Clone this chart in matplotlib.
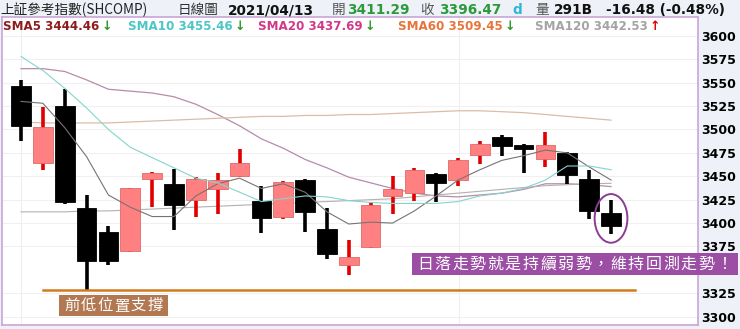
import matplotlib
matplotlib.use('Agg')
import matplotlib.pyplot as plt
from matplotlib.patches import Rectangle, Ellipse

# candle data
opens  = [3547, 3464, 3525, 3416, 3390, 3370, 3447, 3442, 3425, 3436, 3450, 3424, 3406, 3446,
          3394, 3355, 3374, 3429, 3432, 3452, 3446, 3473, 3492, 3483, 3468, 3475, 3447, 3411.29]
highs  = [3553, 3524, 3543, 3430, 3397, 3438, 3455, 3458, 3449, 3454, 3479, 3440, 3445, 3447,
          3416, 3382, 3423, 3450, 3459, 3453, 3470, 3488, 3494, 3484, 3497, 3476, 3457, 3425]
lows   = [3488, 3457, 3420, 3329, 3355, 3369, 3417, 3393, 3407, 3410, 3449, 3389, 3404, 3390,
          3362, 3345, 3373, 3410, 3424, 3422, 3440, 3463, 3472, 3453, 3460, 3442, 3404, 3388]
closes = [3504, 3503, 3422, 3360, 3359, 3437, 3453, 3419, 3447, 3446, 3464, 3405, 3444, 3412,
          3367, 3364, 3419, 3436, 3457, 3443, 3467, 3484, 3482, 3479, 3483, 3451, 3413, 3396.47]

sma5   = [3530, 3528, 3502, 3471, 3430, 3417, 3407, 3407, 3429, 3442, 3448, 3437, 3442, 3433,
          3412, 3399, 3401, 3400, 3413, 3429, 3446, 3457, 3467, 3472, 3478, 3475, 3460, 3446]
sma10  = [3578, 3563, 3544, 3523, 3500, 3481, 3470, 3459, 3448, 3443, 3433, 3423, 3426, 3429,
          3428, 3424, 3422, 3421, 3421, 3421, 3423, 3429, 3432, 3437, 3446, 3461, 3461, 3457]
sma20  = [3565, 3565, 3562, 3553, 3543, 3541, 3539, 3535, 3527, 3516, 3504, 3490, 3480, 3468,
          3459, 3449, 3443, 3437, 3432, 3429, 3428, 3430, 3432, 3436, 3442, 3442, 3441, 3439]
sma60  = [3508, 3507, 3507, 3507, 3507, 3508, 3509, 3510, 3511, 3512, 3513, 3514, 3514, 3515,
          3515, 3516, 3516, 3517, 3518, 3519, 3520, 3520, 3519, 3518, 3516, 3514, 3512, 3510]
sma120 = [3412, 3412, 3412, 3413, 3413, 3414, 3415, 3416, 3417, 3418, 3419, 3420, 3421, 3422,
          3423, 3424, 3425, 3426, 3428, 3430, 3432, 3434, 3436, 3438, 3440, 3441, 3442, 3442.5]

yticks = [3300, 3325, 3375, 3400, 3425, 3450, 3475, 3500, 3525, 3550, 3575, 3600]
support_level = 3328

W, H = 740, 329
cjk = ['Noto Sans CJK TC', 'DejaVu Sans']

fig = plt.figure(figsize=(W / 100, H / 100), dpi=100)
fig.patch.set_facecolor('#eef2f8')
ax = fig.add_axes([2 / W, 4 / H, 696 / W, 308 / H])
ax.set_facecolor('white')

def px(x, y):
    return x / W, 1 - y / H

def label_box(x0, y0, x1, y1, text, fc, step, size):
    # box drawn in pixel coords, characters spaced out one by one
    fig.patches.append(Rectangle(px(x0, y1), (x1 - x0) / W, (y1 - y0) / H,
                                 transform=fig.transFigure, fc=fc, ec='none', zorder=10))
    yc = (y0 + y1) / 2
    for k, ch in enumerate(text):
        fig.text(*px(x0 + 4 + step * (k + 0.5), yc), ch, family=cjk, fontsize=size,
                 color='white', ha='center', va='center', zorder=11)

n = len(closes)
xs = list(range(n))
for i in xs:
    o, h, l, c = opens[i], highs[i], lows[i], closes[i]
    up = c >= o
    wick = '#e00000' if up else 'black'
    body = '#ff8080' if up else 'black'
    ax.plot([i, i], [l, h], color=wick, lw=2.6, solid_capstyle='butt', zorder=3)
    ax.add_patch(Rectangle((i - 0.45, min(o, c)), 0.9, max(abs(c - o), 0.8),
                           facecolor=body, edgecolor='#e06868' if up else 'black',
                           lw=0.6, zorder=4))

ax.plot(xs, sma5, color='#7a7272', lw=0.8, zorder=5)
ax.plot(xs, sma10, color='#86d4cc', lw=0.8, zorder=5)
ax.plot(xs, sma20, color='#b58cab', lw=0.9, zorder=2)
ax.plot(xs, sma60, color='#dcbca6', lw=0.9, zorder=2)
ax.plot(xs, sma120, color='#b4b0b0', lw=0.8, zorder=2)

ax.set_xlim(-0.87, 30.98)
ax.set_ylim(3291.1, 3620.2)
ax.set_yticks(yticks)
ax.yaxis.tick_right()
ax.tick_params(axis='y', length=0, pad=2, labelsize=9)
for t in ax.get_yticklabels():
    t.set_fontweight('bold')
ax.set_xticks([])
ax.grid(axis='y', color='#f0f0f0', lw=0.8)
for v in [0, 20.05]:
    ax.axvline(v, color='#eeeeee', lw=0.8, zorder=0)
for s in ax.spines.values():
    s.set_color('#c9a6d6')
    s.set_linewidth(1.2)

# support line + labels
ax.plot([1.0, 28.1], [support_level, support_level], color='#d27a1e', lw=1.8, zorder=6)
label_box(59, 295, 168, 316, '前低位置支撐', '#b27852', 16.8, 11)
label_box(412, 253, 738, 275, '日落走勢就是持續弱勢，維持回測走勢！', '#9b4ea3', 17.6, 11.5)
ax.add_patch(Ellipse((27, 3405), 1.5, 52, fill=False, ec='#8c3c94', lw=1.4, zorder=7))

# header row 1
y1 = 10
fig.text(*px(0, y1), '上証參考指數(SHCOMP)', family=cjk, fontsize=9.8, color='#222222', va='center')
fig.text(*px(178, y1), '日線圖', family=cjk, fontsize=9.8, color='#333333', va='center')
fig.text(*px(228, y1), '2021/04/13', fontsize=9.8, weight='bold', color='#111111', va='center')
fig.text(*px(332, y1), '開', family=cjk, fontsize=9.8, color='#555555', va='center')
fig.text(*px(347, y1), '3411.29', fontsize=9.8, weight='bold', color='#2a9a3a', va='center')
fig.text(*px(420, y1), '收', family=cjk, fontsize=9.8, color='#555555', va='center')
fig.text(*px(439, y1), '3396.47', fontsize=9.8, weight='bold', color='#2a9a3a', va='center')
fig.text(*px(512, y1), 'd', fontsize=9.8, weight='bold', color='#30b4d8', va='center')
fig.text(*px(535, y1), '量', family=cjk, fontsize=9.8, color='#555555', va='center')
fig.text(*px(554, y1), '291B', fontsize=9.8, weight='bold', color='#111111', va='center')
fig.text(*px(606, y1), '-16.48 (-0.48%)', fontsize=9.8, weight='bold', color='#111111', va='center')

# header row 2 (moving average legend)
y2 = 26
legend = [(3, 'SMA5 3444.46', '#8e1c1c', '↓', '#2a9a2a'),
          (128, 'SMA10 3455.46', '#4cc6c6', '↓', '#2a9a2a'),
          (258, 'SMA20 3437.69', '#d2388a', '↓', '#2a9a2a'),
          (398, 'SMA60 3509.45', '#e8743a', '↓', '#2a9a2a'),
          (535, 'SMA120 3442.53', '#a4a4a4', '↑', '#e00000')]
for x0, txt, col, arr, acol in legend:
    t = fig.text(*px(x0, y2), txt, fontsize=8.6, weight='bold', color=col, va='center')
    fig.canvas.draw()
    bb = t.get_window_extent()
    fig.text(bb.x1 / W + 2 / W, 1 - y2 / H, arr, fontsize=9, weight='bold', color=acol, va='center')

fig.savefig('out.png', dpi=100, facecolor=fig.get_facecolor())
